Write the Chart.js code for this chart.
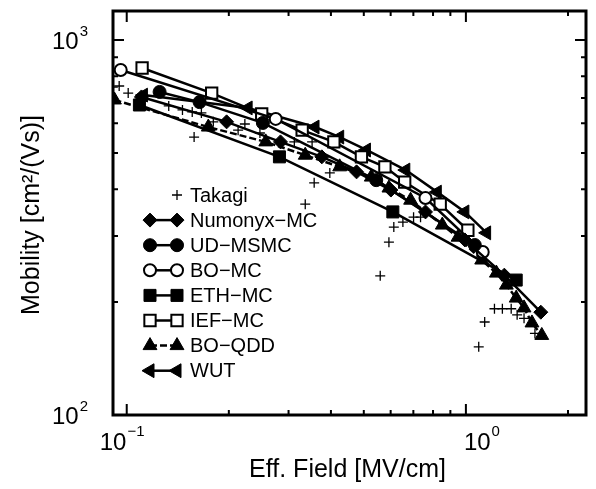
<!DOCTYPE html>
<html>
<head>
<meta charset="utf-8">
<script src="https://cdn.jsdelivr.net/npm/chart.js@4.4.0/dist/chart.umd.min.js"></script>
<style>
  body { margin: 0; background: #fff; }
  #wrap { width: 596px; height: 489px; }
</style>
</head>
<body>
<div id="wrap"><canvas id="mobilityChart" width="596" height="489"></canvas></div>
<script>
// effective field [MV/cm] and mobility [cm2/(Vs)]
const takagiField = [0.091, 0.095, 0.101, 0.133, 0.146, 0.156, 0.158, 0.166, 0.180, 0.213, 0.223, 0.247, 0.312, 0.336, 0.352, 0.357, 0.397, 0.559, 0.593, 0.613, 0.652, 0.701, 0.735, 1.091, 1.136, 1.214, 1.281, 1.36, 1.416, 1.484, 1.598];
const takagiMobility = [749, 754, 722, 667, 651, 643, 551, 639, 605, 575, 597, 565, 535, 365, 535, 416, 442, 235, 289, 317, 327, 337, 337, 152, 177, 192, 192, 192, 185, 181, 165];

const numonyxField = [0.1105, 0.197, 0.284, 0.376, 0.476, 0.601, 0.76, 0.993, 1.298, 1.663];
const numonyxMobility = [705, 605, 535, 488, 445, 398, 348, 293, 236, 188];

const udField = [0.125, 0.164, 0.252, 0.544, 1.062];
const udMobility = [727, 683, 601, 423, 284];

const boMcField = [0.096, 0.275, 0.76, 1.121];
const boMcMobility = [832, 616, 379, 272];

const ethField = [0.109, 0.282, 0.609, 1.407];
const ethMobility = [671, 488, 348, 229];

const iefField = [0.111, 0.178, 0.25, 0.329, 0.408, 0.492, 0.577, 0.66, 0.84, 1.0135];
const iefMobility = [842, 722, 635, 575, 535, 488, 459, 418, 365, 311];

const boQddField = [0.092, 0.174, 0.257, 0.336, 0.4245, 0.526, 0.593, 0.687, 0.852, 0.948, 1.113, 1.23, 1.316, 1.407, 1.484, 1.566, 1.674];
const boQddMobility = [692, 586, 535, 493, 459, 431, 403, 374, 321, 298, 259, 239, 222, 205, 193, 176, 163];

const wutField = [0.112, 0.228, 0.359, 0.4245, 0.509, 0.665, 0.8235, 0.993, 1.151];
const wutMobility = [713, 659, 586, 551, 509, 450, 393, 348, 306];

const xMajorTicks = [0.1, 1];
const xMinorTicks = [0.2, 0.3, 0.4, 0.5, 0.6, 0.7, 0.8, 0.9, 2];
const xTickExponents = ['\u22121', '0'];
const yMajorTicks = [100, 1000];
const yMinorTicks = [200, 300, 400, 500, 600, 700, 800, 900];
const yTickExponents = ['2', '3'];

const FONT = '"Liberation Sans", Arial, Helvetica, sans-serif';

function pts(xs, ys) {
    return xs.map((x, i) => ({ x: x, y: ys[i] }));
}

function series(label, xs, ys, style) {
    return Object.assign({
        label: label,
        data: pts(xs, ys),
        showLine: true,
        borderColor: '#000',
        borderWidth: 2.5,
        pointBorderColor: '#000',
        pointBackgroundColor: '#000',
        pointBorderWidth: 1,
        tension: 0
    }, style);
}

const datasets = [
    series('Takagi', takagiField, takagiMobility, { showLine: false, pointStyle: 'cross', pointRadius: 5, pointBorderWidth: 1.3 }),
    series('Numonyx\u2212MC', numonyxField, numonyxMobility, { pointStyle: 'rectRot', pointRadius: 7 }),
    series('UD\u2212MSMC', udField, udMobility, { pointStyle: 'circle', pointRadius: 6.5 }),
    series('BO\u2212MC', boMcField, boMcMobility, { pointStyle: 'circle', pointRadius: 6, pointBackgroundColor: '#fff', pointBorderWidth: 2 }),
    series('ETH\u2212MC', ethField, ethMobility, { pointStyle: 'rect', pointRadius: 8.5 }),
    series('IEF\u2212MC', iefField, iefMobility, { pointStyle: 'rect', pointRadius: 8, pointBackgroundColor: '#fff', pointBorderWidth: 2 }),
    series('BO\u2212QDD', boQddField, boQddMobility, { pointStyle: 'triangle', pointRadius: 8, borderDash: [7, 3] }),
    series('WUT', wutField, wutMobility, { pointStyle: 'triangle', pointRotation: -90, pointRadius: 8 })
];

// box, inward ticks, tick labels, axis titles and the legend
const frame = {
    id: 'frame',
    afterDatasetsDraw(chart) {
        const ctx = chart.ctx;
        const a = chart.chartArea;
        const xs = chart.scales.x;
        const ys = chart.scales.y;
        ctx.save();
        ctx.strokeStyle = '#000';
        ctx.fillStyle = '#000';

        ctx.lineWidth = 2;
        const tickX = (v, len) => {
            const p = xs.getPixelForValue(v);
            ctx.beginPath();
            ctx.moveTo(p, a.bottom); ctx.lineTo(p, a.bottom - len);
            ctx.moveTo(p, a.top); ctx.lineTo(p, a.top + len);
            ctx.stroke();
        };
        const tickY = (v, len) => {
            const p = ys.getPixelForValue(v);
            ctx.beginPath();
            ctx.moveTo(a.left, p); ctx.lineTo(a.left + len, p);
            ctx.moveTo(a.right, p); ctx.lineTo(a.right - len, p);
            ctx.stroke();
        };
        xMajorTicks.forEach(v => tickX(v, 11));
        xMinorTicks.forEach(v => tickX(v, 5));
        yMajorTicks.forEach(v => tickY(v, 11));
        yMinorTicks.forEach(v => tickY(v, 5));

        ctx.lineWidth = 3;
        ctx.strokeRect(a.left, a.top, a.right - a.left, a.bottom - a.top);

        // tick labels with superscripts
        ctx.textBaseline = 'alphabetic';
        const xShift = [-27, -2];
        xMajorTicks.forEach((v, i) => {
            const p = xs.getPixelForValue(v) + xShift[i];
            ctx.font = '24px ' + FONT;
            ctx.textAlign = 'left';
            ctx.fillText('10', p, 450);
            const w = ctx.measureText('10').width;
            ctx.font = '15px ' + FONT;
            ctx.fillText(xTickExponents[i], p + w + 1, 436);
        });
        yMajorTicks.forEach((v, i) => {
            const p = ys.getPixelForValue(v);
            ctx.font = '15px ' + FONT;
            const ew = ctx.measureText(yTickExponents[i]).width;
            ctx.textAlign = 'right';
            ctx.fillText(yTickExponents[i], 88, p - 4);
            ctx.font = '24px ' + FONT;
            ctx.fillText('10', 88 - ew - 1, p + 9);
        });

        // axis titles
        ctx.font = '25px ' + FONT;
        ctx.textAlign = 'center';
        ctx.textBaseline = 'middle';
        ctx.fillText('Eff. Field [MV/cm]', (a.left + a.right) / 2 - 2, 470);
        ctx.save();
        ctx.translate(32, (a.top + a.bottom) / 2 + 2);
        ctx.rotate(-Math.PI / 2);
        ctx.fillText('Mobility [cm\u00b2/(Vs)]', 0, 0);
        ctx.restore();

        // legend
        const drawPoint = Chart.helpers.drawPoint;
        ctx.font = '20px ' + FONT;
        ctx.textAlign = 'left';
        chart.data.datasets.forEach((ds, i) => {
            const y = 195 + i * 25.1;
            const mark = (x) => {
                ctx.save();
                ctx.fillStyle = ds.pointBackgroundColor;
                ctx.strokeStyle = ds.pointBorderColor;
                ctx.lineWidth = ds.pointBorderWidth;
                drawPoint(ctx, {
                    pointStyle: ds.pointStyle,
                    rotation: ds.pointRotation || 0,
                    radius: ds.pointRadius,
                    borderWidth: ds.pointBorderWidth
                }, x, y);
                ctx.restore();
            };
            if (ds.showLine) {
                ctx.save();
                ctx.lineWidth = ds.borderWidth;
                ctx.setLineDash(ds.borderDash || []);
                ctx.beginPath();
                ctx.moveTo(150, y); ctx.lineTo(178, y);
                ctx.stroke();
                ctx.restore();
                mark(150);
            }
            mark(177);
            ctx.fillStyle = '#000';
            ctx.textBaseline = 'middle';
            ctx.fillText(ds.label, 190, y + 1);
        });
        ctx.restore();
    }
};

new Chart(document.getElementById('mobilityChart'), {
    type: 'scatter',
    data: { datasets: datasets },
    options: {
        responsive: false,
        animation: false,
        layout: { padding: { top: 11, right: 3, left: 0, bottom: 0 } },
        plugins: { legend: { display: false }, tooltip: { enabled: false } },
        scales: {
            x: {
                type: 'logarithmic',
                min: 0.0911,
                max: 2.26,
                grid: { display: false },
                border: { display: false },
                ticks: { display: false },
                afterFit: s => { s.height = 74; }
            },
            y: {
                type: 'logarithmic',
                min: 100,
                max: 1195,
                grid: { display: false },
                border: { display: false },
                ticks: { display: false },
                afterFit: s => { s.width = 113; }
            }
        }
    },
    plugins: [frame]
});
</script>
</body>
</html>
